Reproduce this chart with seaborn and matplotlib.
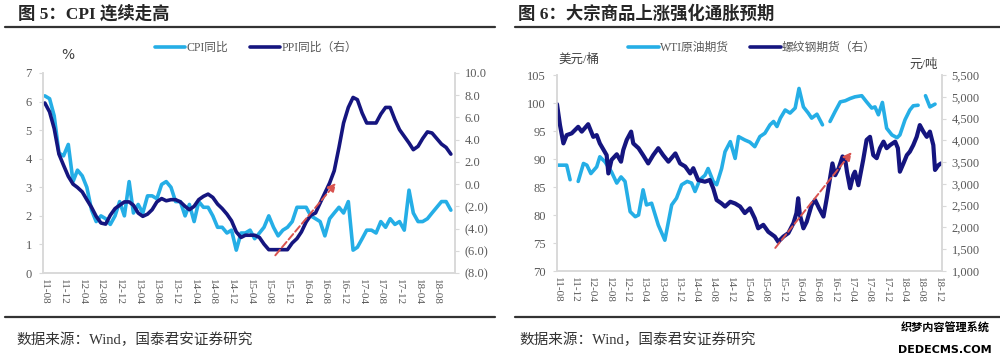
import numpy as np
import pandas as pd
import matplotlib
matplotlib.use("Agg")
import matplotlib.pyplot as plt
import matplotlib.dates as mdates
from matplotlib.lines import Line2D
import seaborn as sns

# ---------------- 图5 data: monthly, 2011-08 .. 2018-11 ----------------
cpi_yoy = [6.2, 6.1, 5.5, 4.2, 4.1,
           4.5, 3.2, 3.6, 3.4, 3.0, 2.2, 1.8, 2.0, 1.9, 1.7, 2.0, 2.5,
           2.0, 3.2, 2.1, 2.4, 2.1, 2.7, 2.7, 2.6, 3.1, 3.2, 3.0, 2.5,
           2.5, 2.0, 2.4, 1.8, 2.5, 2.3, 2.3, 2.0, 1.6, 1.6, 1.4, 1.5,
           0.8, 1.4, 1.4, 1.5, 1.2, 1.4, 1.6, 2.0, 1.6, 1.3, 1.5, 1.6,
           1.8, 2.3, 2.3, 2.3, 2.0, 1.9, 1.8, 1.3, 1.9, 2.1, 2.3, 2.1,
           2.5, 0.8, 0.9, 1.2, 1.5, 1.5, 1.4, 1.8, 1.6, 1.9, 1.7, 1.8,
           1.5, 2.9, 2.1, 1.8, 1.8, 1.9, 2.1, 2.3, 2.5, 2.5, 2.2]
ppi_yoy = [7.3, 6.5, 5.0, 2.7, 1.7,
           0.7, 0.0, -0.3, -0.7, -1.4, -2.1, -2.9, -3.5, -3.6, -2.8, -2.2, -1.9,
           -1.6, -1.6, -1.9, -2.6, -2.9, -2.7, -2.3, -1.6, -1.3, -1.5, -1.4, -1.4,
           -1.6, -2.0, -2.3, -2.0, -1.4, -1.1, -0.9, -1.2, -1.8, -2.2, -2.7, -3.3,
           -4.3, -4.8, -4.6, -4.6, -4.6, -4.8, -5.4, -5.9, -5.9, -5.9, -5.9, -5.9,
           -5.3, -4.9, -4.3, -3.4, -2.8, -2.6, -1.7, -0.8, 0.1, 1.2, 3.3, 5.5,
           6.9, 7.8, 7.6, 6.4, 5.5, 5.5, 5.5, 6.3, 6.9, 6.9, 5.8, 4.9,
           4.3, 3.7, 3.1, 3.4, 4.1, 4.7, 4.6, 4.1, 3.6, 3.3, 2.7]
months5 = pd.date_range("2011-08-01", periods=len(cpi_yoy), freq="MS")

# ---------------- 图6 data ----------------
# WTI (left axis), None marks a break in the line
wti_dates = ["2011-08-01", "2011-10-08", "2011-11-01", "2011-12-01",
             "2011-12-28", "2012-02-03", "2012-02-27", "2012-03-26", "2012-05-06",
             "2012-05-28", "2012-07-03", "2012-08-18", "2012-09-24", "2012-10-24",
             "2012-11-21", "2012-12-27", "2013-02-01", "2013-02-24", "2013-03-28",
             "2013-04-21", "2013-05-27", "2013-07-13", "2013-08-28", "2013-10-15",
             "2013-11-18", "2013-12-24", "2014-02-01", "2014-03-04", "2014-03-28",
             "2014-05-01", "2014-06-06", "2014-06-28", "2014-08-03", "2014-08-27",
             "2014-10-01", "2014-10-25", "2014-12-01", "2015-01-04", "2015-01-28",
             "2015-03-13", "2015-04-18", "2015-05-22", "2015-06-27", "2015-08-01",
             "2015-09-06", "2015-10-01", "2015-10-25", "2015-11-18", "2015-12-22",
             "2016-01-25", "2016-03-01", "2016-03-28", "2016-04-28", "2016-06-01",
             "2016-06-25", "2016-08-01", "2016-09-09", "2016-10-01",
             "2016-11-01", "2016-12-07", "2017-01-12", "2017-02-16", "2017-03-22",
             "2017-04-25", "2017-06-12", "2017-07-16", "2017-08-21", "2017-09-13",
             "2017-10-07", "2017-11-04", "2017-12-04", "2018-01-10", "2018-02-15",
             "2018-03-07", "2018-04-12", "2018-05-16", "2018-06-09", "2018-07-13",
             "2018-08-10",
             "2018-09-03", "2018-10-04", "2018-11-09"]
wti_price = [88.9, 88.9, 86.3, None,
             86.0, 89.2, 88.9, 87.4, 88.6,
             90.4, 89.5, 87.7, 85.7, 86.8,
             86.0, 80.6, 79.7, 80.0, 84.5,
             81.8, 82.1, 78.2, 75.5, 81.8,
             83.0, 85.4, 86.0, 85.7, 84.2,
             86.3, 87.1, 88.3, 86.0, 85.4,
             88.3, 91.3, 93.1, 90.1, 94.0,
             93.4, 93.0, 92.2, 94.0, 94.6,
             96.1, 96.7, 95.8, 97.3, 98.75,
             98.2, 99.1, 102.6, 99.3, 98.2,
             97.3, 98.0, 96.1, None,
             96.7, 98.5, 100.2, 100.4, 100.8,
             101.1, 101.3, 100.2, 99.1, 99.3,
             97.9, 100.1, 95.5, 94.3, 93.8,
             94.3, 97.0, 98.75, 99.5, 99.6,
             None,
             101.3, 99.3, 99.8]

# Rebar futures (right axis)
rebar_dates = ["2011-08-01", "2011-08-22", "2011-09-15", "2011-10-08", "2011-11-12",
               "2011-12-28", "2012-01-22", "2012-03-07", "2012-04-12", "2012-05-06",
               "2012-05-28", "2012-07-15", "2012-07-27", "2012-08-18", "2012-09-24",
               "2012-10-24", "2012-11-09", "2012-12-03", "2013-01-03", "2013-01-18",
               "2013-02-24", "2013-03-28", "2013-05-03", "2013-06-07", "2013-07-13",
               "2013-08-16", "2013-09-22", "2013-11-10", "2013-12-13", "2014-01-18",
               "2014-02-22", "2014-03-16", "2014-04-19", "2014-06-06", "2014-07-10",
               "2014-08-03", "2014-08-27", "2014-10-01", "2014-10-25", "2014-12-01",
               "2015-01-04", "2015-02-08", "2015-03-13", "2015-04-18", "2015-05-22",
               "2015-06-15", "2015-07-21", "2015-08-25", "2015-10-10", "2015-11-03",
               "2015-12-09", "2016-01-13", "2016-02-18", "2016-03-10", "2016-03-22",
               "2016-04-03", "2016-04-28", "2016-05-21", "2016-06-25", "2016-07-19",
               "2016-08-16", "2016-09-16", "2016-10-09", "2016-11-01", "2016-11-18",
               "2016-12-07", "2017-01-01", "2017-01-28", "2017-02-16", "2017-02-28",
               "2017-03-22", "2017-04-13", "2017-04-25", "2017-05-19", "2017-06-22",
               "2017-07-16", "2017-08-09", "2017-09-01", "2017-09-25", "2017-10-18",
               "2017-11-12", "2017-12-04", "2017-12-28", "2018-02-02", "2018-02-21",
               "2018-03-07", "2018-04-01", "2018-04-25", "2018-05-16", "2018-06-09",
               "2018-07-03", "2018-07-25", "2018-08-19", "2018-09-12", "2018-10-04",
               "2018-10-28", "2018-11-09", "2018-12-03", "2018-12-21"]
rebar_price = [4830, 4350, 3930, 4120, 4160,
               4310, 4200, 4370, 4080, 4120,
               3930, 3660, 3240, 3550, 3680,
               3510, 3780, 4010, 4200, 3930,
               3820, 3660, 3470, 3660, 3820,
               3660, 3510, 3700, 3470, 3400,
               3240, 3360, 3090, 3050, 3090,
               2900, 2630, 2550, 2480, 2590,
               2550, 2480, 2330, 2440, 2210,
               1980, 2060, 1900, 1790, 1670,
               1790, 1870, 2100, 2330, 2670,
               2290, 1980, 2130, 2520, 2630,
               2440, 2250, 2670, 3130, 3470,
               3200, 3360, 3630, 3550, 3280,
               2900, 3200, 3280, 2970, 3550,
               4010, 4080, 3660, 3590, 3820,
               3970, 3820, 3890, 3970, 3820,
               3280, 3470, 3660, 3740, 3890,
               4080, 4350, 4200, 4080, 4200,
               3890, 3320, 3430, 3470]

LIGHT = "#25aee6"
NAVY = "#15157f"
GRID_GREY = "#d9d9d9"
TXT_GREY = "#595959"
NEG_RED = "#c0504d"

sns.set_style("white")
plt.rcParams["font.family"] = ["Liberation Serif", "Noto Sans CJK SC"]

df5 = pd.DataFrame({"date": months5, "cpi": cpi_yoy, "ppi": ppi_yoy})

wti = pd.DataFrame({"date": pd.to_datetime(wti_dates), "price": wti_price})
wti["price"] = wti["price"].astype(float)
wti["seg"] = wti["price"].isna().cumsum()
wti = wti.dropna()
rebar = pd.DataFrame({"date": pd.to_datetime(rebar_dates), "price": rebar_price})

fig = plt.figure(figsize=(10, 3.58), dpi=100)


def style_axes(ax, axr):
    for a in (ax, axr):
        a.spines["top"].set_visible(False)
        for s in ("left", "right", "bottom"):
            a.spines[s].set_color(GRID_GREY)
            a.spines[s].set_linewidth(1.2)
        a.set_xlabel("")
        a.set_ylabel("")
    ax.tick_params(axis="y", length=3, color=GRID_GREY, labelcolor=TXT_GREY,
                   labelsize=9, pad=5)
    axr.tick_params(axis="y", length=3, color=GRID_GREY, labelcolor=TXT_GREY,
                    labelsize=9, pad=4)
    ax.tick_params(axis="x", length=3, color=GRID_GREY, labelcolor=TXT_GREY,
                   labelsize=8, pad=1)


# ---------------- 图5 ----------------
ax1 = fig.add_axes([0.043, 0.2374, 0.412, 0.5587])
sns.lineplot(data=df5, x="date", y="cpi", ax=ax1, color=LIGHT, lw=2.6)
ax1b = ax1.twinx()
sns.lineplot(data=df5, x="date", y="ppi", ax=ax1b, color=NAVY, lw=2.6)
ax1.set_ylim(0, 7)
ax1.set_yticks(range(0, 8))
ax1b.set_ylim(-8, 10)
ppi_ticks = list(range(-8, 11, 2))
ax1b.set_yticks(ppi_ticks)
ax1b.set_yticklabels([f"({abs(v):.1f})" if v < 0 else f"{v:.1f}" for v in ppi_ticks])
for v, lab in zip(ppi_ticks, ax1b.get_yticklabels()):
    if v < 0:
        lab.set_color(NEG_RED)
ax1.set_xlim(pd.Timestamp("2011-07-20"), pd.Timestamp("2018-11-28"))
ticks5 = pd.date_range("2011-08-01", periods=22, freq="4MS")
ax1.set_xticks(ticks5)
ax1.set_xticklabels([d.strftime("%y-%m") for d in ticks5], rotation=-90)
style_axes(ax1, ax1b)
ax1b.annotate("", xy=(mdates.date2num(pd.Timestamp("2016-10-25")), 0.3),
              xytext=(mdates.date2num(pd.Timestamp("2015-09-01")), -6.6),
              arrowprops=dict(arrowstyle="-|>", ls="--", lw=1.4, color="#d9534f",
                              mutation_scale=12))
fig.text(0.068, 0.845, "%", fontsize=10, color="#404040", ha="center", va="center",
         family=["DejaVu Sans"])

h5 = [Line2D([], [], color=LIGHT, lw=2.6), Line2D([], [], color=NAVY, lw=2.6)]
fig.legend(h5, ["CPI同比", "PPI同比（右）"], loc="center", bbox_to_anchor=(0.256, 0.866),
           ncol=2, frameon=False, fontsize=8.5, handlelength=2.6, columnspacing=1.8,
           handletextpad=0.1, labelcolor=TXT_GREY)

# ---------------- 图6 ----------------
ax2 = fig.add_axes([0.557, 0.243, 0.385, 0.5475])
sns.lineplot(data=wti, x="date", y="price", units="seg", estimator=None, ax=ax2,
             color=LIGHT, lw=2.6)
ax2b = ax2.twinx()
sns.lineplot(data=rebar, x="date", y="price", ax=ax2b, color=NAVY, lw=3.0)
ax2.set_ylim(70, 105)
ax2.set_yticks(range(70, 106, 5))
ax2b.set_ylim(1000, 5500)
ax2b.set_yticks(range(1000, 5501, 500))
ax2b.set_yticklabels([f"{v:,}" for v in range(1000, 5501, 500)])
ax2.set_xlim(pd.Timestamp("2011-08-01"), pd.Timestamp("2018-12-28"))
ticks6 = pd.date_range("2011-08-01", periods=23, freq="4MS")
ax2.set_xticks(ticks6)
ax2.set_xticklabels([d.strftime("%y-%m") for d in ticks6], rotation=-90)
style_axes(ax2, ax2b)
ax2b.annotate("", xy=(mdates.date2num(pd.Timestamp("2017-04-15")), 3780),
              xytext=(mdates.date2num(pd.Timestamp("2015-10-01")), 1480),
              arrowprops=dict(arrowstyle="-|>", ls="--", lw=1.4, color="#d9534f",
                              mutation_scale=12))
fig.text(0.558, 0.832, "美元/桶", fontsize=9, color="#404040", ha="left", va="center")
fig.text(0.938, 0.818, "元/吨", fontsize=9, color="#404040", ha="right", va="center")

fig.legend(h5, ["WTI原油期货", "螺纹钢期货（右）"], loc="center",
           bbox_to_anchor=(0.752, 0.866), ncol=2, frameon=False, fontsize=8.5,
           handlelength=2.6, columnspacing=1.8, handletextpad=0.1, labelcolor=TXT_GREY)

# ---------------- titles, rules and sources ----------------
fig.text(0.018, 0.961, "图 5：CPI 连续走高", fontsize=12.5, fontweight="bold",
         ha="left", va="center")
fig.text(0.518, 0.961, "图 6：大宗商品上涨强化通胀预期", fontsize=12.5, fontweight="bold",
         ha="left", va="center")
for x0, x1 in ((0.005, 0.495), (0.515, 1.0)):
    fig.add_artist(Line2D([x0, x1], [0.925, 0.925], color="#333333", lw=1.6))
    fig.add_artist(Line2D([x0, x1], [0.115, 0.115], color="#333333", lw=1.6))
fig.text(0.016, 0.05, "数据来源：Wind，国泰君安证券研究", fontsize=10.5, color="#333333",
         ha="left", va="center")
fig.text(0.519, 0.05, "数据来源：Wind，国泰君安证券研究", fontsize=10.5, color="#333333",
         ha="left", va="center")
fig.text(0.945, 0.083, "织梦内容管理系统", fontsize=8, fontweight="bold", color="black",
         ha="center", va="center")
fig.text(0.945, 0.022, "DEDECMS.COM", fontsize=8, fontweight="bold", color="black",
         ha="center", va="center", family=["DejaVu Sans"])

fig.savefig("out.png", dpi=100)
